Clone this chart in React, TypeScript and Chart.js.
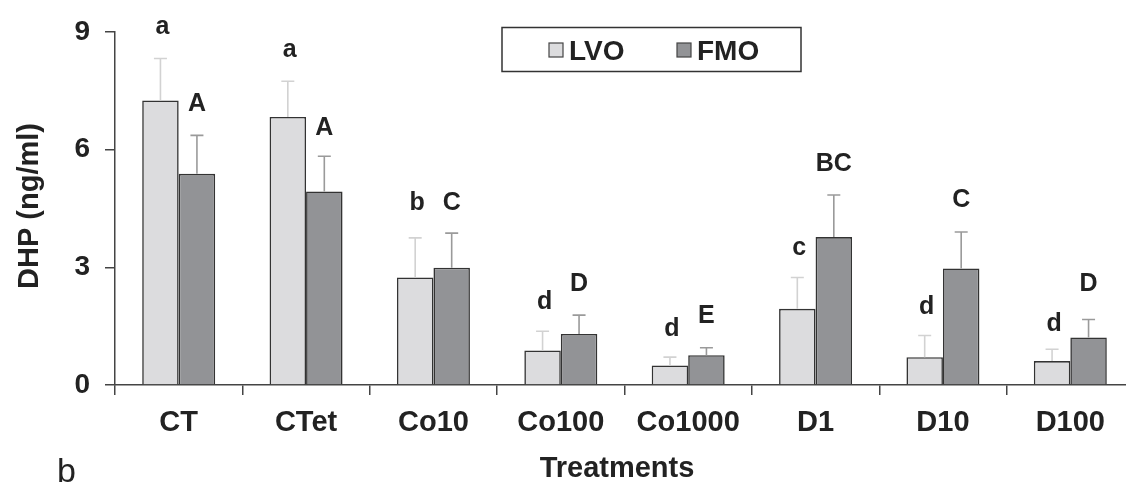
import React, { useEffect, useRef } from "react";
import { Chart, registerables } from "chart.js";

Chart.register(...registerables);

const categories = ["CT", "CTet", "Co10", "Co100", "Co1000", "D1", "D10", "D100"];
const seriesNames = ["LVO", "FMO"];
const lvoValues = [7.25, 6.83, 2.74, 0.88, 0.5, 1.94, 0.71, 0.61];
const lvoErrors = [1.07, 0.91, 1.01, 0.49, 0.21, 0.8, 0.55, 0.3];
const fmoValues = [5.38, 4.93, 2.99, 1.3, 0.76, 3.77, 2.97, 1.21];
const fmoErrors = [0.98, 0.9, 0.88, 0.48, 0.19, 1.07, 0.93, 0.46];
const lvoLetters = ["a", "a", "b", "d", "d", "c", "d", "d"];
const fmoLetters = ["A", "A", "C", "D", "E", "BC", "C", "D"];
const lvoLetterHeights = [8.95, 8.35, 4.45, 1.93, 1.26, 3.32, 1.81, 1.38];
const fmoLetterHeights = [6.99, 6.36, 4.45, 2.39, 1.58, 5.46, 4.53, 2.39];
const yTicks = [0, 3, 6, 9];

const FONT = "'Liberation Sans', Arial, sans-serif";
const LVO_FILL = "#dcdcde";
const FMO_FILL = "#929396";
const EDGE = "#333333";
const TEXT = "#222222";

const CANVAS_W = 1160;
const CANVAS_H = 483;

const overlayPlugin = {
  id: "overlay",
  afterDatasetsDraw(chart: any) {
    const ctx = chart.ctx;
    const y = chart.scales.y;
    const errs = [lvoErrors, fmoErrors];
    const vals = [lvoValues, fmoValues];
    const errColors = ["#d2d2d2", "#9a9a9a"];
    ctx.save();
    for (let d = 0; d < 2; d++) {
      const meta = chart.getDatasetMeta(d);
      meta.data.forEach((bar: any, i: number) => {
        const top = y.getPixelForValue(vals[d][i] + errs[d][i]);
        ctx.strokeStyle = errColors[d];
        ctx.lineWidth = 1.6;
        ctx.beginPath();
        ctx.moveTo(bar.x, bar.y);
        ctx.lineTo(bar.x, top);
        ctx.moveTo(bar.x - 6.5, top);
        ctx.lineTo(bar.x + 6.5, top);
        ctx.stroke();
      });
    }
    const letters = [lvoLetters, fmoLetters];
    const heights = [lvoLetterHeights, fmoLetterHeights];
    ctx.fillStyle = TEXT;
    ctx.font = `bold 25px ${FONT}`;
    ctx.textAlign = "center";
    ctx.textBaseline = "alphabetic";
    for (let d = 0; d < 2; d++) {
      const meta = chart.getDatasetMeta(d);
      meta.data.forEach((bar: any, i: number) => {
        ctx.fillText(letters[d][i], bar.x + (d === 0 ? 2 : 0), y.getPixelForValue(heights[d][i]));
      });
    }
    ctx.restore();
  },
  afterDraw(chart: any) {
    const ctx = chart.ctx;
    ctx.save();
    ctx.strokeStyle = EDGE;
    ctx.lineWidth = 1.5;
    ctx.strokeRect(502, 27.5, 299, 44);
    const fills = [LVO_FILL, FMO_FILL];
    const boxX = [549, 677];
    ctx.font = `bold 28px ${FONT}`;
    ctx.textAlign = "left";
    ctx.textBaseline = "alphabetic";
    for (let k = 0; k < 2; k++) {
      ctx.fillStyle = fills[k];
      ctx.fillRect(boxX[k], 43, 14, 14);
      ctx.strokeStyle = "#444";
      ctx.lineWidth = 1.2;
      ctx.strokeRect(boxX[k], 43, 14, 14);
      ctx.fillStyle = TEXT;
      ctx.fillText(seriesNames[k], boxX[k] + 20, 60);
    }
    ctx.font = `bold 29px ${FONT}`;
    ctx.textAlign = "center";
    ctx.fillText("Treatments", 617, 477);
    ctx.translate(38, 206);
    ctx.rotate(-Math.PI / 2);
    ctx.textBaseline = "alphabetic";
    ctx.fillText("DHP (ng/ml)", 0, 0);
    ctx.restore();
    ctx.save();
    ctx.fillStyle = TEXT;
    ctx.font = `34px ${FONT}`;
    ctx.textAlign = "left";
    ctx.fillText("b", 57, 482);
    ctx.restore();
  },
};

export default function App() {
  const ref = useRef<HTMLCanvasElement | null>(null);
  useEffect(() => {
    if (!ref.current) return;
    const chart = new Chart(ref.current, {
      type: "bar",
      data: {
        labels: categories,
        datasets: [
          {
            label: seriesNames[0],
            data: lvoValues,
            backgroundColor: LVO_FILL,
            borderColor: EDGE,
            borderWidth: 1.6,
            categoryPercentage: 0.573,
            barPercentage: 1.0,
          },
          {
            label: seriesNames[1],
            data: fmoValues,
            backgroundColor: FMO_FILL,
            borderColor: EDGE,
            borderWidth: 1.6,
            categoryPercentage: 0.573,
            barPercentage: 1.0,
          },
        ],
      },
      options: {
        responsive: false,
        animation: false,
        devicePixelRatio: 1,
        layout: { padding: { left: 0, right: CANVAS_W - 1134, top: 27, bottom: 0 } },
        plugins: { legend: { display: false }, tooltip: { enabled: false }, title: { display: false } },
        scales: {
          x: {
            grid: {
              drawOnChartArea: false,
              drawTicks: true,
              tickLength: 10,
              color: "#444",
              lineWidth: 1.5,
              offset: true,
            },
            border: { display: true, color: "#444", width: 1.5 },
            ticks: {
              font: { family: FONT, size: 29, weight: "bold" },
              color: TEXT,
              padding: 11,
              maxRotation: 0,
              autoSkip: false,
            },
            afterFit(scale: any) {
              scale.height = CANVAS_H - 385;
            },
          },
          y: {
            min: 0,
            max: 9,
            afterBuildTicks(scale: any) {
              scale.ticks = yTicks.map((v) => ({ value: v }));
            },
            grid: {
              drawOnChartArea: false,
              drawTicks: true,
              tickLength: 10,
              color: "#444",
              lineWidth: 1.5,
            },
            border: { display: true, color: "#444", width: 1.5 },
            ticks: {
              font: { family: FONT, size: 28, weight: "bold" },
              color: TEXT,
              padding: 15,
            },
            afterFit(scale: any) {
              scale.width = 115;
            },
          },
        },
      },
      plugins: [overlayPlugin],
    });
    return () => chart.destroy();
  }, []);
  return (
    <div
      style={{
        position: "fixed",
        left: 0,
        top: 0,
        width: 1126,
        height: 483,
        overflow: "hidden",
        background: "#fff",
      }}
    >
      <canvas ref={ref} width={CANVAS_W} height={CANVAS_H} style={{ width: CANVAS_W, height: CANVAS_H, display: "block" }} />
    </div>
  );
}
